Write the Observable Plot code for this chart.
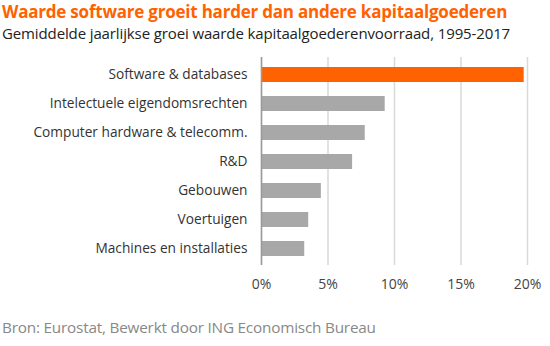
<!DOCTYPE html>
<html>
<head>
<meta charset="utf-8">
<script src="https://cdn.jsdelivr.net/npm/d3@7"></script>
<script src="https://cdn.jsdelivr.net/npm/@observablehq/plot@0.6"></script>
<style>
  html, body { margin: 0; padding: 0; background: #fff; }
  #wrap { width: 550px; height: 346px; position: relative; overflow: hidden; font-family: "Open Sans", sans-serif; }
  #title { position: absolute; left: 2px; top: 2px; font-size: 17px; line-height: 20px; font-weight: bold; color: #FF6200; white-space: nowrap; letter-spacing: -0.22px; }
  #subtitle { position: absolute; left: 2px; top: 24px; font-size: 15px; line-height: 19px; color: #222; white-space: nowrap; letter-spacing: -0.12px; }
  #chart { position: absolute; left: 0; top: 48px; }
  #caption { position: absolute; left: 2px; top: 317px; font-size: 15.3px; line-height: 20px; color: #888; white-space: nowrap; letter-spacing: -0.2px; }
</style>
</head>
<body>
<div id="wrap">
  <div id="title">Waarde software groeit harder dan andere kapitaalgoederen</div>
  <div id="subtitle">Gemiddelde jaarlijkse groei waarde kapitaalgoederenvoorraad, 1995-2017</div>
  <div id="chart"></div>
  <div id="caption">Bron: Eurostat, Bewerkt door ING Economisch Bureau</div>
</div>
<script>
const categories = [
  "Software & databases",
  "Intelectuele eigendomsrechten",
  "Computer hardware & telecomm.",
  "R&D",
  "Gebouwen",
  "Voertuigen",
  "Machines en installaties"
];
const values = [19.75, 9.3, 7.8, 6.85, 4.5, 3.55, 3.25];
const highlight = "Software & databases";
const xTicks = [0, 5, 10, 15, 20];

const data = categories.map((c, i) => ({category: c, value: values[i]}));

const plot = Plot.plot({
  width: 550,
  height: 252,
  marginLeft: 261,
  marginRight: 23,
  marginTop: 9,
  marginBottom: 35,
  style: {fontFamily: "Open Sans, sans-serif", background: "transparent"},
  x: {domain: [0, 20], ticks: xTicks, tickFormat: d => d + "%"},
  y: {domain: categories, paddingInner: 0.5, paddingOuter: 0.25},
  marks: [
    Plot.gridX(xTicks, {stroke: "#d9d9d9", strokeWidth: 1.5, strokeOpacity: 1}),
    Plot.barX(data, {
      y: "category",
      x: "value",
      fill: d => d.category === highlight ? "#FF6200" : "#A8A8A8"
    }),
    Plot.ruleX([0], {stroke: "#999", strokeWidth: 1.5}),
    Plot.axisX({ticks: xTicks, tickFormat: d => d + "%", tickSize: 0, tickPadding: 14, fontSize: 14, color: "#444", label: null}),
    Plot.axisY({tickSize: 0, tickPadding: 14, fontSize: 13.7, color: "#333", label: null})
  ]
});
document.getElementById("chart").appendChild(plot);
</script>
</body>
</html>
